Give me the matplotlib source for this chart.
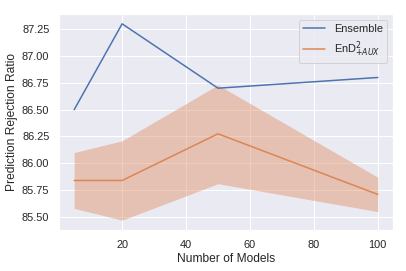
import matplotlib
matplotlib.use("Agg")
import matplotlib.pyplot as plt
import seaborn as sns

n_models = [5, 20, 50, 100]
ensemble = [86.50, 87.30, 86.70, 86.80]
end_aux = [85.84, 85.84, 86.275, 85.71]
end_aux_low = [85.58, 85.47, 85.81, 85.55]
end_aux_high = [86.10, 86.21, 86.73, 85.87]

sns.set_theme(style="darkgrid")
plt.rcParams['font.family'] = ['Liberation Sans', 'DejaVu Sans']

fig = plt.figure(figsize=(406 / 72, 271 / 72), dpi=72)
ax = fig.add_axes([59 / 406, 41 / 271, 334 / 406, 216 / 271])

ax.plot(n_models, ensemble, label="Ensemble")
ax.plot(n_models, end_aux, label="EnD$^2_{+AUX}$")
ax.fill_between(n_models, end_aux_low, end_aux_high, color="C1", alpha=0.4, linewidth=0)

ax.set_xlabel("Number of Models")
ax.set_ylabel("Prediction Rejection Ratio")
ax.set_xticks([20, 40, 60, 80, 100])
ax.legend(loc="upper right")

fig.savefig("out.png", dpi=72)
